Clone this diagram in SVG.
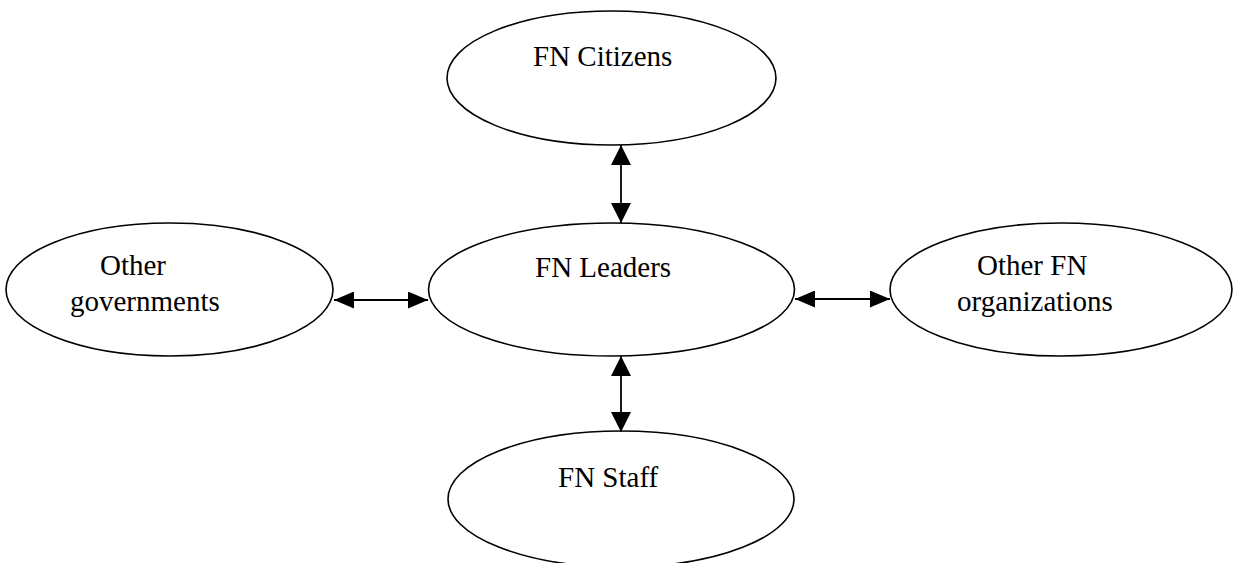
<svg xmlns="http://www.w3.org/2000/svg" width="1234" height="563" viewBox="0 0 1234 563">
  <style>
    .node { fill: #ffffff; stroke: #000000; stroke-width: 1.6; }
    .label { font-family: "Liberation Serif", "Times New Roman", serif; font-size: 29px; fill: #000000; }
    .link { fill: none; stroke: #000000; stroke-width: 1.8; }
  </style>
  <defs>
    <marker id="head-v" markerUnits="userSpaceOnUse" markerWidth="20" markerHeight="20" refX="20" refY="10" orient="auto-start-reverse" viewBox="0 0 20 20">
      <path d="M0,0 L20,10 L0,20 Z" fill="#000000"/>
    </marker>
    <marker id="head-h" markerUnits="userSpaceOnUse" markerWidth="20" markerHeight="17" refX="20" refY="8.5" orient="auto-start-reverse" viewBox="0 0 20 17">
      <path d="M0,0 L20,8.5 L0,17 Z" fill="#000000"/>
    </marker>
  </defs>

  <rect width="1234" height="563" fill="#ffffff"/>

  <g id="fn-citizens">
    <ellipse class="node" cx="611.5" cy="78" rx="164.5" ry="67"/>
    <text class="label" x="533" y="66">FN Citizens</text>
  </g>

  <g id="fn-leaders">
    <ellipse class="node" cx="611.5" cy="289.5" rx="183" ry="66.5"/>
    <text class="label" x="535" y="277">FN Leaders</text>
  </g>

  <g id="other-governments">
    <ellipse class="node" cx="169.5" cy="289.5" rx="163.5" ry="66.5"/>
    <text class="label" x="100" y="275">Other</text>
    <text class="label" x="70" y="311">governments</text>
  </g>

  <g id="other-fn-organizations">
    <ellipse class="node" cx="1061" cy="289.5" rx="171" ry="66.5"/>
    <text class="label" x="977" y="275">Other FN</text>
    <text class="label" x="957" y="311">organizations</text>
  </g>

  <g id="fn-staff">
    <ellipse class="node" cx="621" cy="499" rx="173" ry="68"/>
    <text class="label" x="558" y="487">FN Staff</text>
  </g>

  <g id="connectors">
    <line class="link" x1="621" y1="145" x2="621" y2="223" marker-start="url(#head-v)" marker-end="url(#head-v)"/>
    <line class="link" x1="621" y1="356" x2="621" y2="432" marker-start="url(#head-v)" marker-end="url(#head-v)"/>
    <line class="link" x1="334" y1="300" x2="428" y2="300" marker-start="url(#head-h)" marker-end="url(#head-h)"/>
    <line class="link" x1="795" y1="299" x2="890" y2="299" marker-start="url(#head-h)" marker-end="url(#head-h)"/>
  </g>
</svg>
